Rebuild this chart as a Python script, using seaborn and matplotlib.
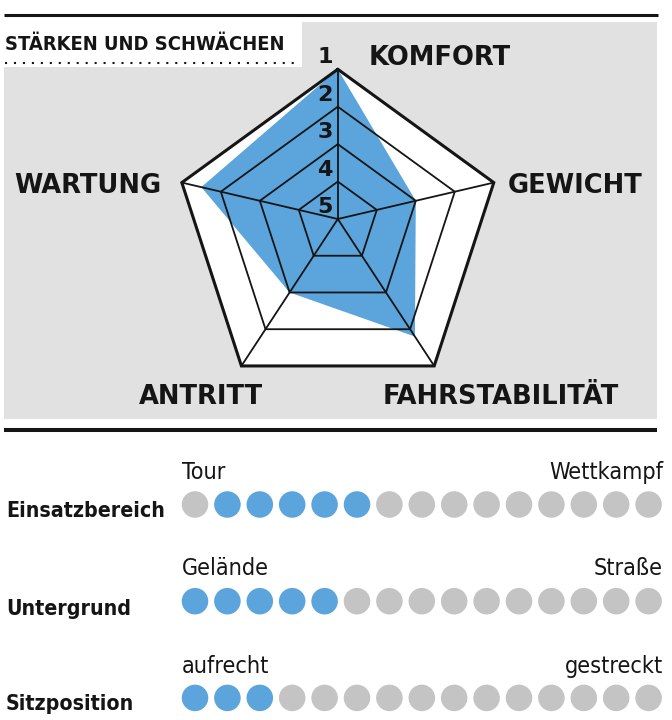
import numpy as np
import pandas as pd
import matplotlib
matplotlib.use("Agg")
import matplotlib.pyplot as plt
import seaborn as sns
from matplotlib import font_manager as fm
from matplotlib.font_manager import FontProperties
from matplotlib.patches import Rectangle, Polygon

# radar values (1 = best, outer ring; 5 = centre)
axis_labels = ["KOMFORT", "GEWICHT", "FAHRSTABILITÄT", "ANTRITT", "WARTUNG"]
scores = [1.0, 3.0, 1.8, 3.0, 1.5]
levels = [1, 2, 3, 4, 5]

# dot scales below the radar
row_labels = ["Einsatzbereich", "Untergrund", "Sitzposition"]
left_ends = ["Tour", "Gelände", "aufrecht"]
right_ends = ["Wettkampf", "Straße", "gestreckt"]
blue_first = [2, 1, 1]
blue_last = [6, 5, 3]
n_dots = 15

BLUE = "#5ba4dc"
GREY_DOT = "#c4c4c4"
GREY_BG = "#e1e1e1"
INK = "#151515"

sns.set_theme(style="white")
plt.rcParams["font.family"] = ["DejaVu Sans"]


def narrow_font(target_weight):
    # look for an installed condensed / narrow face, closest to the wanted weight
    cands = []
    for f in fm.fontManager.ttflist:
        key = (f.name + " " + f.fname).lower()
        squeezed = (str(f.stretch) in ("condensed", "semi-condensed", "extra-condensed",
                                       "ultra-condensed") or "narrow" in key or "condensed" in key)
        if not squeezed or f.style != "normal" or "italic" in key or "mono" in key:
            continue
        w = f.weight if isinstance(f.weight, (int, float)) else fm.weight_dict.get(f.weight, 400)
        cands.append((abs(int(w) - target_weight), f.fname))
    if cands:
        return FontProperties(fname=sorted(cands)[0][1])
    return FontProperties(family="DejaVu Sans", weight="bold" if target_weight >= 600 else "normal")


FP_BOLD = narrow_font(700)
FP_LIGHT = narrow_font(350)

W, H = 672, 720
fig = plt.figure(figsize=(W / 100, H / 100), dpi=100)
renderer = fig.canvas.get_renderer()


def fit_width(txt, target):
    # scale the font so the text spans the target width in pixels
    w = txt.get_window_extent(renderer).width
    txt.set_fontsize(txt.get_fontsize() * target / w)
    return txt.get_fontsize()


# base layer in pixel coordinates (frame, background, labels)
base = fig.add_axes([0, 0, 1, 1])
base.set_xlim(0, W)
base.set_ylim(H, 0)
base.axis("off")

base.plot([4, 658], [15, 15], color=INK, lw=2.2, solid_capstyle="butt")
base.add_patch(Rectangle((4, 22), 653, 397, color=GREY_BG, lw=0))
base.add_patch(Rectangle((4, 22), 298, 45, color="white", lw=0))
base.plot([5, 300], [62.7, 62.7], color=INK, lw=1.5, ls=(0, (1, 3.3)))
base.plot([4, 657], [429.5, 429.5], color=INK, lw=2.9, solid_capstyle="butt")

title = base.text(5, 50, "STÄRKEN UND SCHWÄCHEN", fontproperties=FP_BOLD,
                  color=INK, ha="left", va="baseline")
title.set_fontsize(18)
fit_width(title, 280)

# spoke label positions: (centre x, baseline y) in px
label_pos = [(440, 65), (575, 193), (500.5, 404), (200.5, 404), (87.5, 193)]
for name, (x, y) in zip(axis_labels, label_pos):
    base.text(x, y, name, weight="bold", color=INK, fontsize=18.5,
              ha="center", va="baseline")

# radar layer: unit = outer ring radius, origin = spoke hub
cx, cy, R = 337.8, 219.0, 164.0
shift = 0.087
rad = fig.add_axes([0, 0, 1, 1])
rad.set_xlim(-cx / R, (W - cx) / R)
rad.set_ylim(-(H - cy) / R, cy / R)
rad.axis("off")

theta = np.deg2rad(90 - 72 * np.arange(len(axis_labels)))
dirs = np.column_stack([np.cos(theta), np.sin(theta) - shift])


def frac(v):
    return (5 - np.asarray(v, dtype=float)) / 4


rad.add_patch(Polygon(frac(1) * dirs, closed=True, fc="white", ec="none", zorder=1))
rad.add_patch(Polygon(frac(scores)[:, None] * dirs, closed=True, fc=BLUE, ec="none", zorder=2))
for lv in levels[:-1]:
    ring = np.vstack([frac(lv) * dirs, frac(lv) * dirs[:1]])
    rad.plot(ring[:, 0], ring[:, 1], color=INK, lw=2.2 if lv == 1 else 1.3,
             zorder=3, solid_joinstyle="miter")
for d in dirs:
    rad.plot([0, d[0]], [0, d[1]], color=INK, lw=1.3, zorder=3)
for lv in levels:
    rad.text(-0.077, frac(lv) * dirs[0, 1] + 0.072, str(lv), weight="bold",
             color=INK, fontsize=16, ha="center", va="center", zorder=4)

# dot rows
rows = []
for j, lab in enumerate(row_labels):
    for p in range(1, n_dots + 1):
        state = "on" if blue_first[j] <= p <= blue_last[j] else "off"
        rows.append({"row": j, "pos": p, "state": state})
df = pd.DataFrame(rows)

x0, dx = 195.0, 32.4
y0, dy = 504.5, 96.7
dots = fig.add_axes([0, 0, 1, 1])
dots.set_xlim(1 - x0 / dx, 1 + (W - x0) / dx)
dots.set_ylim((H - y0) / dy, -y0 / dy)
sns.scatterplot(data=df, x="pos", y="row", hue="state",
                palette={"on": BLUE, "off": GREY_DOT}, s=365, linewidth=0,
                legend=False, ax=dots)
dots.axis("off")

row_base = [517, 615, 710]
end_base = [479, 575, 673]
fs_row = None
fs_end = None
for j in range(len(row_labels)):
    t = base.text(6, row_base[j], row_labels[j], fontproperties=FP_BOLD,
                  color=INK, ha="left", va="baseline")
    t.set_fontsize(18)
    if fs_row is None:
        fs_row = fit_width(t, 159)
    t.set_fontsize(fs_row)
    a = base.text(182, end_base[j], left_ends[j], fontproperties=FP_LIGHT,
                  color=INK, ha="left", va="baseline")
    b = base.text(663, end_base[j], right_ends[j], fontproperties=FP_LIGHT,
                  color=INK, ha="right", va="baseline")
    b.set_fontsize(17)
    if fs_end is None:
        fs_end = min(fit_width(b, 114), 19)
    a.set_fontsize(fs_end)
    b.set_fontsize(fs_end)

fig.savefig("out.png", dpi=100)
